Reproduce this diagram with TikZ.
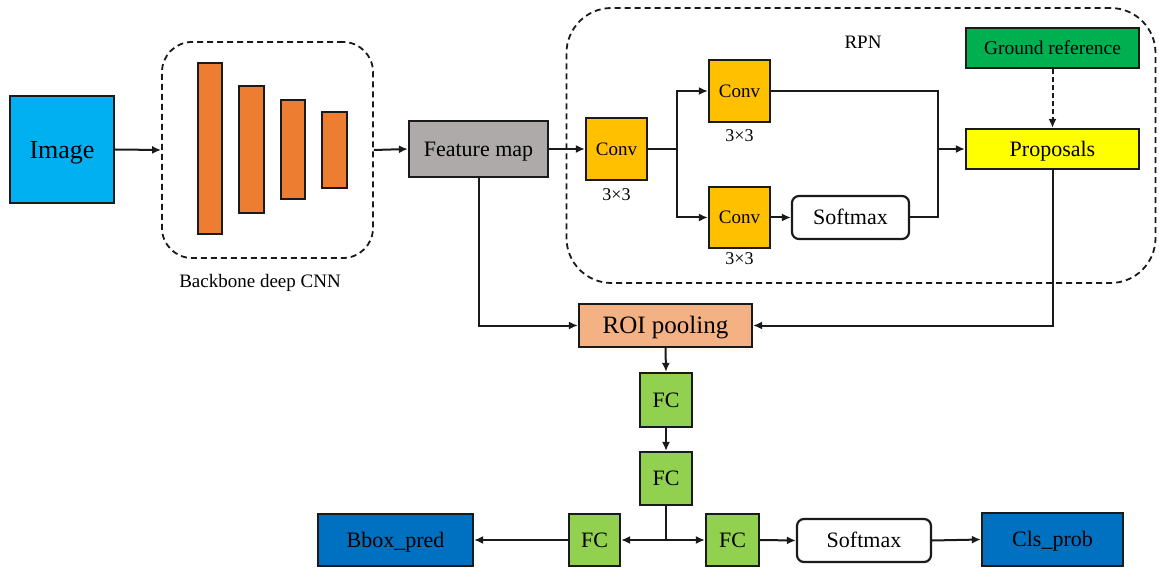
\documentclass[tikz,border=0pt]{standalone}
\usepackage{fontspec}
\setmainfont{Liberation Serif}
\usetikzlibrary{arrows.meta}
\definecolor{cimg}{HTML}{00B0F0}
\definecolor{corange}{HTML}{ED7D31}
\definecolor{cgray}{HTML}{AEAAAA}
\definecolor{cgold}{HTML}{FFC000}
\definecolor{cdgreen}{HTML}{00B050}
\definecolor{cyellow}{HTML}{FFFF00}
\definecolor{cpeach}{HTML}{F4B183}
\definecolor{clgreen}{HTML}{92D050}
\definecolor{cblue}{HTML}{0070C0}
\definecolor{cline}{HTML}{1A1A1A}
\newcommand{\fs}[1]{\fontsize{#1}{#1}\selectfont}
\tikzset{
  box/.style={draw=cline, line width=2.2pt, inner sep=0pt, text=black},
  fz/.code={\pgfmathsetmacro\tmph{0.66*#1}\tikzset{font=\fs{#1}, text height=\tmph pt, text depth=0pt}},
  rbox/.style={box, rounded corners=7pt},
  dbox/.style={draw=cline, line width=1.8pt, dash pattern=on 6pt off 4pt, inner sep=0pt},
  arr/.style={draw=cline, line width=2pt, -{Latex[length=9pt,width=8pt]}},
  ln/.style={draw=cline, line width=2pt},
  lbl/.style={inner sep=0pt, text=black},
}
\begin{document}
\begin{tikzpicture}[x=1pt,y=-1pt]
\useasboundingbox (0,0) rectangle (1159,569);
% dashed groups
\node[dbox, rounded corners=30pt, minimum width=211pt, minimum height=216pt] (bb) at (267.5,150) {};
\node[dbox, rounded corners=45pt, minimum width=589pt, minimum height=275pt] (rpn) at (861,145.5) {};
% boxes
\node[box, fill=cimg, minimum width=104pt, minimum height=107pt, fz=26] (img) at (62,149.5) {Image};
\node[box, fill=corange, minimum width=24pt, minimum height=171pt] (b1) at (210,148.5) {};
\node[box, fill=corange, minimum width=25pt, minimum height=127pt] (b2) at (251.5,149.5) {};
\node[box, fill=corange, minimum width=24pt, minimum height=99pt] (b3) at (293,149.5) {};
\node[box, fill=corange, minimum width=25pt, minimum height=76pt] (b4) at (334.5,150) {};
\node[lbl, font=\fs{19}] (bbl) at (260,283) {Backbone deep CNN};
\node[box, fill=cgray, minimum width=139pt, minimum height=56pt, fz=22] (fm) at (478.5,149) {Feature map};
\node[box, fill=cgold, minimum width=61pt, minimum height=62pt, fz=19] (c1) at (616.5,149) {Conv};
\node[lbl, font=\fs{18}] (c1l) at (616.5,195) {3×3};
\node[box, fill=cgold, minimum width=61pt, minimum height=62pt, fz=19] (c2) at (739.5,91) {Conv};
\node[lbl, font=\fs{18}] (c2l) at (739.5,136) {3×3};
\node[box, fill=cgold, minimum width=61pt, minimum height=61pt, fz=19] (c3) at (739.5,217.5) {Conv};
\node[lbl, font=\fs{18}] (c3l) at (739.5,259) {3×3};
\node[rbox, fill=white, minimum width=117pt, minimum height=43pt, fz=22] (sm1) at (850.5,217.5) {Softmax};
\node[lbl, font=\fs{19}] (rpnl) at (863,42) {RPN};
\node[box, fill=cdgreen, minimum width=173pt, minimum height=40pt, fz=19.5] (gr) at (1052.5,48) {Ground reference};
\node[box, fill=cyellow, minimum width=173pt, minimum height=40pt, fz=22] (prop) at (1052.5,149) {Proposals};
\node[box, fill=cpeach, minimum width=173pt, minimum height=43pt, fz=25] (roi) at (665.5,325.5) {ROI pooling};
\node[box, fill=clgreen, minimum width=52pt, minimum height=54pt, fz=22] (fc1) at (666,400) {FC};
\node[box, fill=clgreen, minimum width=52pt, minimum height=53pt, fz=22] (fc2) at (666,478.5) {FC};
\node[box, fill=clgreen, minimum width=51pt, minimum height=52pt, fz=22] (fcl) at (594.5,540) {FC};
\node[box, fill=clgreen, minimum width=53pt, minimum height=52pt, fz=22] (fcr) at (732.5,540) {FC};
\node[box, fill=cblue, minimum width=155pt, minimum height=52pt, fz=22] (bbox) at (395.5,540) {Bbox\_pred};
\node[rbox, fill=white, minimum width=134pt, minimum height=43pt, fz=22] (sm2) at (864,540.5) {Softmax};
\node[box, fill=cblue, minimum width=141pt, minimum height=53pt, fz=22] (cls) at (1052.5,539.5) {Cls\_prob};
% junctions
\coordinate (br1) at (677,149);
\coordinate (j1) at (938,149);
\coordinate (br2) at (666,540);
% connectors
\draw[arr] (img.east) -- (bb.west);
\draw[arr] (bb.east) -- (fm.west);
\draw[arr] (fm.east) -- (c1.west);
\draw[ln] (c1.east) -- (br1);
\draw[arr] (br1) |- (c2.west);
\draw[arr] (br1) |- (c3.west);
\draw[arr] (c3.east) -- (sm1.west);
\draw[ln] (c2.east) -| (j1);
\draw[ln] (sm1.east) -| (j1);
\draw[arr] (j1) -- (prop.west);
\draw[arr, dash pattern=on 5pt off 3pt] (gr.south) -- (prop.north);
\draw[arr] (prop.south) |- (roi.east);
\draw[arr] (fm.south) |- (roi.west);
\draw[arr] (roi.south) -- (fc1.north);
\draw[arr] (fc1.south) -- (fc2.north);
\draw[ln] (fc2.south) -- (br2);
\draw[arr] (br2) -- (fcl.east);
\draw[arr] (br2) -- (fcr.west);
\draw[arr] (fcl.west) -- (bbox.east);
\draw[arr] (fcr.east) -- (sm2.west);
\draw[arr] (sm2.east) -- (cls.west);
\end{tikzpicture}
\end{document}
